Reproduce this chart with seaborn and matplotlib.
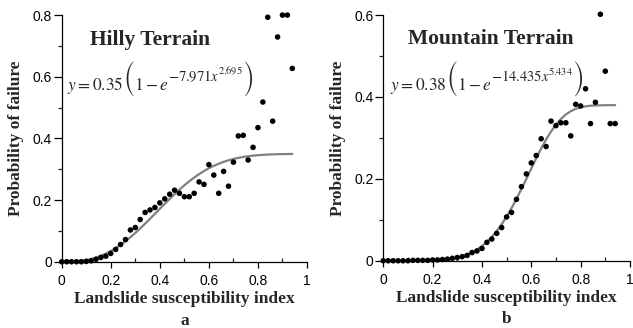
import numpy as np
import pandas as pd

import matplotlib
matplotlib.use('Agg')

import matplotlib.pyplot as plt
from matplotlib.ticker import MultipleLocator
from matplotlib.transforms import offset_copy

import seaborn as sns

# susceptibility index of the observed points (also used for the fitted curves)
lsi = [0.00, 0.02, 0.04, 0.06, 0.08, 0.10, 0.12, 0.14, 0.16, 0.18,
       0.20, 0.22, 0.24, 0.26, 0.28, 0.30, 0.32, 0.34, 0.36, 0.38,
       0.40, 0.42, 0.44, 0.46, 0.48, 0.50, 0.52, 0.54, 0.56, 0.58,
       0.60, 0.62, 0.64, 0.66, 0.68, 0.70, 0.72, 0.74, 0.76, 0.78,
       0.80, 0.82, 0.84, 0.86, 0.88, 0.90, 0.92, 0.94]

hilly_obs = [0, 0, 0, 0, 0, 0.001, 0.003, 0.008, 0.014, 0.018,
             0.027, 0.040, 0.056, 0.072, 0.103, 0.111, 0.137, 0.160, 0.168, 0.176,
             0.191, 0.204, 0.219, 0.232, 0.222, 0.211, 0.211, 0.222, 0.259, 0.251,
             0.315, 0.281, 0.222, 0.293, 0.245, 0.323, 0.408, 0.410, 0.330, 0.371,
             0.435, 0.518, 0.793, 0.456, 0.729, 0.800, 0.800, 0.627]

hilly_fit = [0, 0.0001, 0.0005, 0.0014, 0.0031, 0.0056, 0.0091, 0.0137, 0.0194, 0.0264,
             0.0347, 0.0441, 0.0548, 0.0667, 0.0796, 0.0934, 0.1083, 0.1235, 0.1393, 0.1554,
             0.1717, 0.1877, 0.2037, 0.2190, 0.2338, 0.2479, 0.2610, 0.2730, 0.2841, 0.2942,
             0.3032, 0.3111, 0.3180, 0.3240, 0.3291, 0.3334, 0.3369, 0.3399, 0.3422, 0.3441,
             0.3456, 0.3467, 0.3476, 0.3483, 0.3488, 0.3491, 0.3494, 0.3496]

mountain_obs = [0, 0, 0, 0, 0, 0, 0.001, 0.001, 0.001, 0.001,
                0.002, 0.002, 0.003, 0.004, 0.006, 0.008, 0.010, 0.013, 0.020, 0.024,
                0.030, 0.045, 0.053, 0.067, 0.081, 0.107, 0.118, 0.150, 0.181, 0.212,
                0.239, 0.257, 0.298, 0.279, 0.341, 0.330, 0.337, 0.337, 0.305, 0.382,
                0.378, 0.420, 0.335, 0.387, 0.602, 0.463, 0.335, 0.335]

mountain_fit = [0, 0, 0, 0, 0, 0, 0.0001, 0.0002, 0.0003, 0.0005,
                0.0009, 0.0015, 0.0024, 0.0036, 0.0054, 0.0078, 0.0111, 0.0153, 0.0207, 0.0275,
                0.0359, 0.0461, 0.0583, 0.0725, 0.0891, 0.1079, 0.1286, 0.1514, 0.1751, 0.1999,
                0.2254, 0.2503, 0.2742, 0.2961, 0.3156, 0.3325, 0.3463, 0.3572, 0.3652, 0.3710,
                0.3748, 0.3772, 0.3786, 0.3793, 0.3797, 0.3799, 0.3800, 0.3800]

panels = [
    dict(obs=hilly_obs, fit=hilly_fit, ymax=0.8,
         title='Hilly Terrain', title_xy=(0.36, 0.72),
         eq=('0.35', '7.971', '2.695'), eq_xy=(0.403, 0.557),
         tag='a', pos=[0.0975, 0.202, 0.3875, 0.752]),
    dict(obs=mountain_obs, fit=mountain_fit, ymax=0.6,
         title='Mountain Terrain', title_xy=(0.435, 0.541),
         eq=('0.38', '14.435', '5.434'), eq_xy=(0.42, 0.417),
         tag='b', pos=[0.6055, 0.205, 0.3897, 0.749]),
]

sns.set_theme(style='ticks')
plt.rcParams['font.family'] = ['Liberation Sans', 'DejaVu Sans']
plt.rcParams['mathtext.fontset'] = 'stix'

serif = ['Liberation Serif', 'DejaVu Serif']

fig = plt.figure(figsize=(6.33, 3.28), dpi=100)
renderer = fig.canvas.get_renderer()


def equation(ax, x, y, a, b, c):
    # y = a ( 1 - e^(-b x^c) ), pieces laid out along one baseline
    # (text, size, family, raise, kern after) -- all in points
    pieces = [(r'$y = %s$' % a, 12.5, 'STIXGeneral', 0, 0),
              ('(', 13.5, 'STIXSizeTwoSym', -1.5, 0),
              (r'$1 - e$', 12.5, 'STIXGeneral', 0, -0.8),
              (r'$-%s\mathit{x}$' % b, 10.5, 'STIXGeneral', 6.5, -0.8),
              (r'$%s$' % c, 7.5, 'STIXGeneral', 11, -0.5),
              (')', 13.5, 'STIXSizeTwoSym', -1.5, 0)]
    texts = []
    widths = []
    for s, fs, fam, dy, kern in pieces:
        t = ax.text(x, y, s, fontsize=fs, family=fam, ha='left', va='baseline',
                    transform=ax.transData)
        texts.append((t, dy))
        widths.append(t.get_window_extent(renderer).width * 72.0 / fig.dpi + kern)
    total = sum(widths)
    off = -total / 2.0
    for (t, dy), w in zip(texts, widths):
        t.set_transform(offset_copy(ax.transData, fig=fig, x=off, y=dy, units='points'))
        off += w


for p in panels:
    ax = fig.add_axes(p['pos'])
    df = pd.DataFrame({'lsi': lsi, 'obs': p['obs'], 'fit': p['fit']})

    sns.lineplot(data=df, x='lsi', y='fit', ax=ax, color='#808080', linewidth=1.6,
                 sort=False, estimator=None, zorder=2)
    sns.scatterplot(data=df, x='lsi', y='obs', ax=ax, color='black', s=16,
                    edgecolor='none', zorder=3, clip_on=False)

    ax.set_xlim(0, 1)
    ax.set_ylim(0, p['ymax'])
    ax.xaxis.set_major_locator(MultipleLocator(0.2))
    ax.xaxis.set_minor_locator(MultipleLocator(0.1))
    ax.yaxis.set_major_locator(MultipleLocator(0.2))
    ax.yaxis.set_minor_locator(MultipleLocator(0.1))
    ax.xaxis.set_major_formatter(lambda v, pos: '%g' % round(v, 2))
    ax.yaxis.set_major_formatter(lambda v, pos: '%g' % round(v, 2))

    for s in ['top', 'right']:
        ax.spines[s].set_visible(False)
    for s in ['left', 'bottom']:
        ax.spines[s].set_linewidth(0.9)
        ax.spines[s].set_color('black')

    ax.tick_params(axis='both', which='major', direction='out', width=0.9,
                   labelsize=10, colors='black')
    ax.tick_params(axis='x', which='major', length=4, pad=5)
    ax.tick_params(axis='y', which='major', length=5.5, pad=1.5)
    ax.tick_params(axis='x', which='minor', direction='in', length=3, width=0.9)
    ax.tick_params(axis='y', which='minor', direction='out', length=3, width=0.9)

    ax.set_xlabel('Landslide susceptibility index', fontsize=12.5, fontweight='bold',
                  family=serif, labelpad=2)
    ax.set_ylabel('Probability of failure', fontsize=12.5, fontweight='bold',
                  family=serif, labelpad=6)

    ax.text(p['title_xy'][0], p['title_xy'][1], p['title'], fontsize=15.5, fontweight='bold',
            family=serif, ha='center', va='center', transform=ax.transData)
    equation(ax, p['eq_xy'][0], p['eq_xy'][1], *p['eq'])

    # panel tag below the axis title
    ax.text(0.5, -0.255, p['tag'], fontsize=12.5, fontweight='bold', family=serif,
            ha='center', va='baseline', transform=ax.transAxes)

plt.savefig('out.png', dpi=100)
plt.close()
